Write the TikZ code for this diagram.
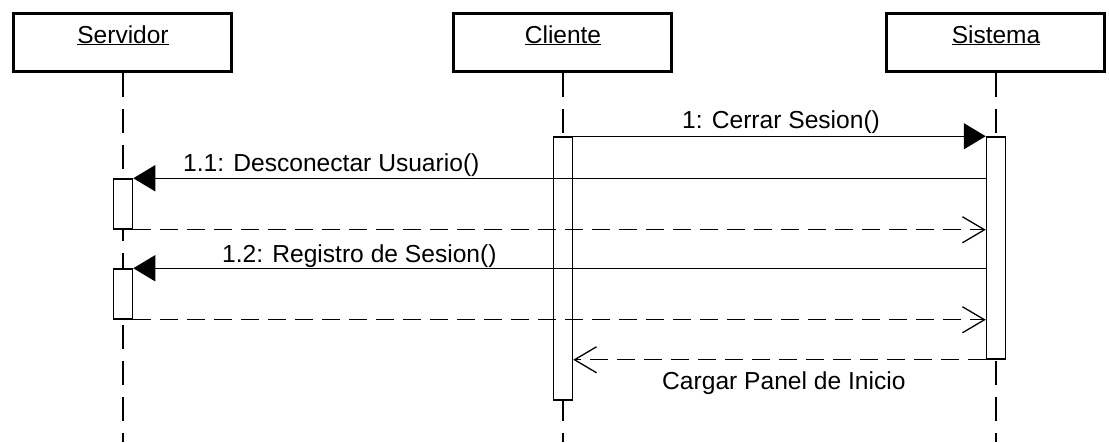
\documentclass[tikz,border=0pt]{standalone}
\usepackage{fontspec}
\setmainfont{Liberation Sans}
\usetikzlibrary{arrows.meta}
\begin{document}
\begin{tikzpicture}[x=1pt,y=-1pt,
  hdr/.style={draw,line width=3pt,minimum width=218pt,minimum height=58pt,inner sep=0pt},
  htext/.style={anchor=base,inner sep=0pt,font=\fontsize{24.5}{28}\selectfont},
  lbl/.style={anchor=base west,inner sep=0pt,font=\fontsize{24.6}{28}\selectfont},
  life/.style={line width=1.4pt,dash pattern=on 24pt off 12pt},
  bar/.style={draw,fill=white,line width=1.5pt,minimum width=19pt,inner sep=0pt},
  msg/.style={line width=1.3pt,-{Triangle[length=22pt,width=26pt]}},
  ret/.style={line width=1.3pt,dash pattern=on 18pt off 9pt,-{Straight Barb[length=22pt,width=26pt,line width=1.3pt]}}]
\useasboundingbox (0,0) rectangle (1109,442);
% header boxes
\node[hdr] (srv) at (122.5,42.5) {};
\node[hdr] (cli) at (562.5,42.5) {};
\node[hdr] (sis) at (995.5,42.5) {};
\node[htext] (srvt) at (123,43) {\underline{Servidor}};
\node[htext] (clit) at (563,43) {\underline{Cliente}};
\node[htext] (sist) at (996,43) {\underline{Sistema}};
% lifeline ends
\coordinate (srvend) at (123,442);
\coordinate (cliend) at (563,442);
\coordinate (sisend) at (996,442);
\draw[life] (srv.south -| srvend) -- (srvend);
\draw[life] (cli.south -| cliend) -- (cliend);
\draw[life] (sis.south -| sisend) -- (sisend);
% activation bars
\node[bar,minimum height=263pt] (cb) at (563,268.5) {};
\node[bar,minimum height=222pt] (sb) at (996,248) {};
\node[bar,minimum height=50pt] (b1) at (123,204) {};
\node[bar,minimum height=50pt] (b2) at (123,294) {};
% messages
\draw[msg] (cb.north east) -- (sb.north west);
\draw[msg] (sb.west |- b1.north) -- (b1.north east);
\draw[ret] (b1.south east) -- (sb.west |- b1.south);
\draw[msg] (sb.west |- b2.north) -- (b2.north east);
\draw[ret] (b2.south east) -- (sb.west |- b2.south);
\draw[ret] (sb.south west) -- (cb.east |- sb.south);
% labels
\node[lbl] (l1) at (682,128) {1: Cerrar Sesion()};
\node[lbl] (l11) at (183,171) {1.1: Desconectar Usuario()};
\node[lbl] (l12) at (222,262) {1.2: Registro de Sesion()};
\node[lbl] (lr) at (662,389) {Cargar Panel de Inicio};
\end{tikzpicture}
\end{document}
